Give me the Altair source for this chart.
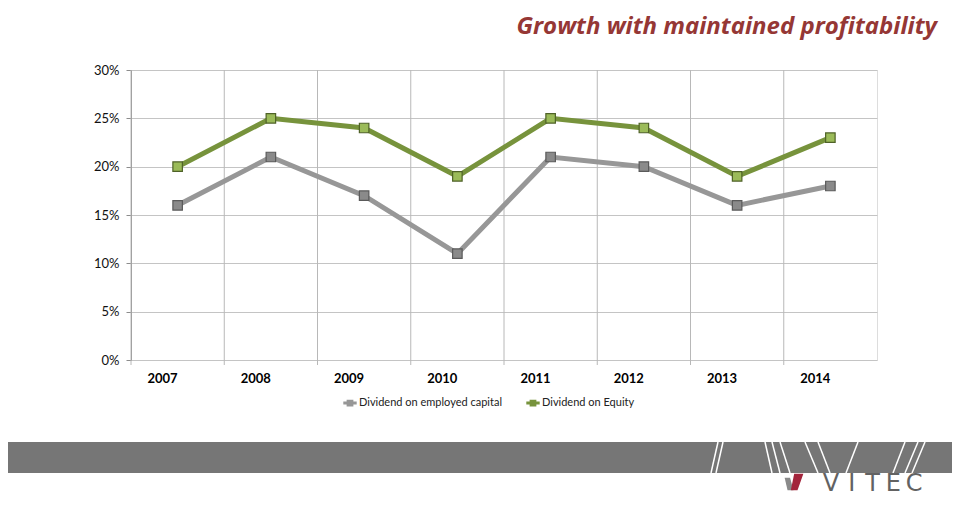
import altair as alt
import pandas as pd

years = ["2007", "2008", "2009", "2010", "2011", "2012", "2013", "2014"]
employed_capital = [0.16, 0.21, 0.17, 0.11, 0.21, 0.20, 0.16, 0.18]
equity = [0.20, 0.25, 0.24, 0.19, 0.25, 0.24, 0.19, 0.23]
series_names = ["Dividend on employed capital", "Dividend on Equity"]
line_colors = ["#979797", "#77933C"]
marker_fills = ["#8a8a8a", "#9BBB59"]
marker_strokes = ["#5a5a5a", "#4F6228"]
y_ticks = [0, 0.05, 0.10, 0.15, 0.20, 0.25, 0.30]
title_text = "Growth with maintained profitability"
logo_letters = ["V", "I", "T", "E", "C"]

W, H = 746, 290
FONT = "Lato"

rows = []
for i, y in enumerate(years):
    rows.append({"year": y, "series": series_names[0], "value": employed_capital[i]})
    rows.append({"year": y, "series": series_names[1], "value": equity[i]})
df = pd.DataFrame(rows)
ydf = pd.DataFrame({"year": years})

xscale = alt.Scale(domain=years, paddingInner=0, paddingOuter=0)
yscale = alt.Scale(domain=[0, 0.3], nice=False)

legend_path = "M-1.6,0H1.6M-0.45,-0.45H0.45V0.45H-0.45Z"

base = alt.Chart(df)

lines = base.mark_line(strokeWidth=5).encode(
    x=alt.X("year:N", scale=xscale, sort=years, title=None,
            axis=alt.Axis(labelFont=FONT, labelFontSize=13, labelFontWeight="bold",
                          labelColor="#000000", labelAngle=0, ticks=False, domain=False,
                          labelPadding=18, grid=False)),
    y=alt.Y("value:Q", scale=yscale, title=None,
            axis=alt.Axis(values=y_ticks, format=".0%", labelFont=FONT, labelFontSize=13,
                          labelColor="#111111", tickSize=5, tickColor="#8c8c8c",
                          domainColor="#8c8c8c", labelPadding=7, grid=True,
                          gridColor="#c4c4c4")),
    color=alt.Color("series:N", scale=alt.Scale(domain=series_names, range=line_colors),
                    title=None,
                    legend=alt.Legend(orient="none", legendX=213, legendY=327,
                                      direction="horizontal", symbolType=legend_path,
                                      symbolSize=70, symbolStrokeWidth=3,
                                      labelFont=FONT, labelFontSize=11, labelColor="#222222",
                                      columnPadding=18, labelOffset=3)),
    detail="series:N",
)

points = base.mark_point(shape="square", size=90, strokeWidth=1.2, opacity=1).encode(
    x=alt.X("year:N", scale=xscale, sort=years),
    y=alt.Y("value:Q", scale=yscale),
    fill=alt.Fill("series:N", scale=alt.Scale(domain=series_names, range=marker_fills), legend=None),
    stroke=alt.Stroke("series:N", scale=alt.Scale(domain=series_names, range=marker_strokes), legend=None),
)

vgrid = alt.Chart(ydf).mark_rule(color="#b8b8b8", strokeWidth=1).encode(
    x=alt.X("year:N", scale=xscale, sort=years, bandPosition=0),
    y=alt.value(0),
    y2=alt.value(H + 5),
)

title = alt.Chart(pd.DataFrame({"t": [title_text]})).mark_text(
    font="Open Sans", fontSize=24, fontStyle="italic", fontWeight="bold", color="#953735",
    align="right", baseline="alphabetic",
).encode(text="t:N", x=alt.value(806), y=alt.value(-36))

band = alt.Chart(pd.DataFrame({"a": [0]})).mark_rect(color="#767676").encode(
    x=alt.value(-131), x2=alt.value(830), y=alt.value(372), y2=alt.value(403)
)

stripes_x1 = [587, 592, 634, 641, 649, 674, 687, 727, 774, 787, 794]
stripes_x2 = [580, 585, 641, 649, 659, 687, 699, 715, 762, 774, 781]
sdf = pd.DataFrame({"x1": stripes_x1, "x2": stripes_x2})
stripes = alt.Chart(sdf).mark_rule(color="#ffffff", strokeWidth=1.5).encode(
    x=alt.X("x1:Q", scale=None), x2="x2:Q", y=alt.value(372), y2=alt.value(403)
)

ldf = pd.DataFrame({"letter": logo_letters, "i": list(range(len(logo_letters)))})
logo = alt.Chart(ldf).transform_calculate(
    px="700 + datum.i * 20.8"
).mark_text(
    font="DejaVu Sans", fontSize=24, color="#626262", align="center", baseline="alphabetic",
).encode(text="letter:N", x=alt.X("px:Q", scale=None), y=alt.value(421))

icon_red = alt.Chart(pd.DataFrame({"a": [0]})).mark_point(
    shape="M-0.1,-1L1,-1L0.3,1L-0.5,1Z", filled=True, color="#a3243b", size=280, opacity=1
).encode(x=alt.value(664), y=alt.value(412))
icon_gray = alt.Chart(pd.DataFrame({"a": [0]})).mark_point(
    shape="M-1,-0.5L-0.35,-0.5L0.05,1L-0.65,1Z", filled=True, color="#8a8a8a", size=280, opacity=1
).encode(x=alt.value(662), y=alt.value(412))

chart = alt.layer(vgrid, lines, points, title, band, stripes, icon_gray, icon_red, logo).properties(
    width=W, height=H,
    autosize=alt.AutoSizeParams(type="none"),
    padding={"left": 123, "top": 62, "right": 75, "bottom": 136},
).configure_view(stroke="#7f7f7f", strokeWidth=1.3).configure(background="white")

chart.save("out.html", embed_options={"renderer": "svg", "actions": False})
